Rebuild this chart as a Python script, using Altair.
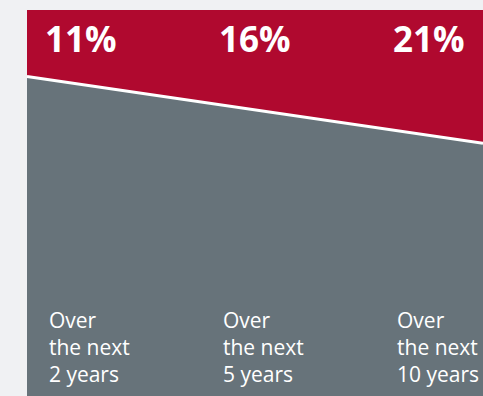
import altair as alt
import pandas as pd

# Data
periods = ["Over\nthe next\n2 years", "Over\nthe next\n5 years", "Over\nthe next\n10 years"]
percents = ["11%", "16%", "21%"]
period_index = [0, 1, 2]

# Boundary between red (top) and grey (bottom) areas, as % depth from top
edge_x = [-0.126, 2.494]
edge_depth = [17.2, 34.5]

RED = "#b0092f"
GREY = "#67737a"
BG = "#f0f1f3"

area_df = pd.DataFrame({"x": edge_x, "depth": edge_depth, "top": [0, 0], "bottom": [100, 100]})
lab_df = pd.DataFrame({"i": period_index, "pct": percents, "period": periods})

xs = alt.Scale(domain=[edge_x[0], edge_x[1]], nice=False, zero=False)
ys = alt.Scale(domain=[0, 100], reverse=True, nice=False, zero=False)

xenc = alt.X("x:Q", scale=xs, axis=None)

red = alt.Chart(area_df).mark_area(color=RED, opacity=1).encode(
    x=xenc, y=alt.Y("top:Q", scale=ys, axis=None), y2="depth:Q"
)
grey = alt.Chart(area_df).mark_area(color=GREY, opacity=1).encode(
    x=xenc, y=alt.Y("depth:Q", scale=ys, axis=None), y2="bottom:Q"
)
line = alt.Chart(area_df).mark_line(color="white", strokeWidth=3).encode(
    x=xenc, y=alt.Y("depth:Q", scale=ys, axis=None)
)

pct_text = alt.Chart(lab_df).mark_text(
    align="left", baseline="alphabetic", font="Open Sans", fontWeight="bold",
    fontSize=35, color="white", dx=-4
).encode(
    x=alt.X("i:Q", scale=xs, axis=None), y=alt.value(42), text="pct:N"
)

period_text = alt.Chart(lab_df).mark_text(
    align="left", baseline="alphabetic", font="Open Sans", fontSize=21,
    color="white", lineBreak="\n", lineHeight=27, dx=0
).encode(
    x=alt.X("i:Q", scale=xs, axis=None), y=alt.value(318), text="period:N"
)

chart = alt.layer(red, grey, line, pct_text, period_text).properties(
    width=456, height=386,
    background=BG,
    padding={"left": 27, "top": 10, "right": 0, "bottom": 0},
    autosize=alt.AutoSizeParams(type="none"),
).configure_view(stroke=None)

chart.save("out.html", embed_options={"renderer": "svg", "actions": False})
